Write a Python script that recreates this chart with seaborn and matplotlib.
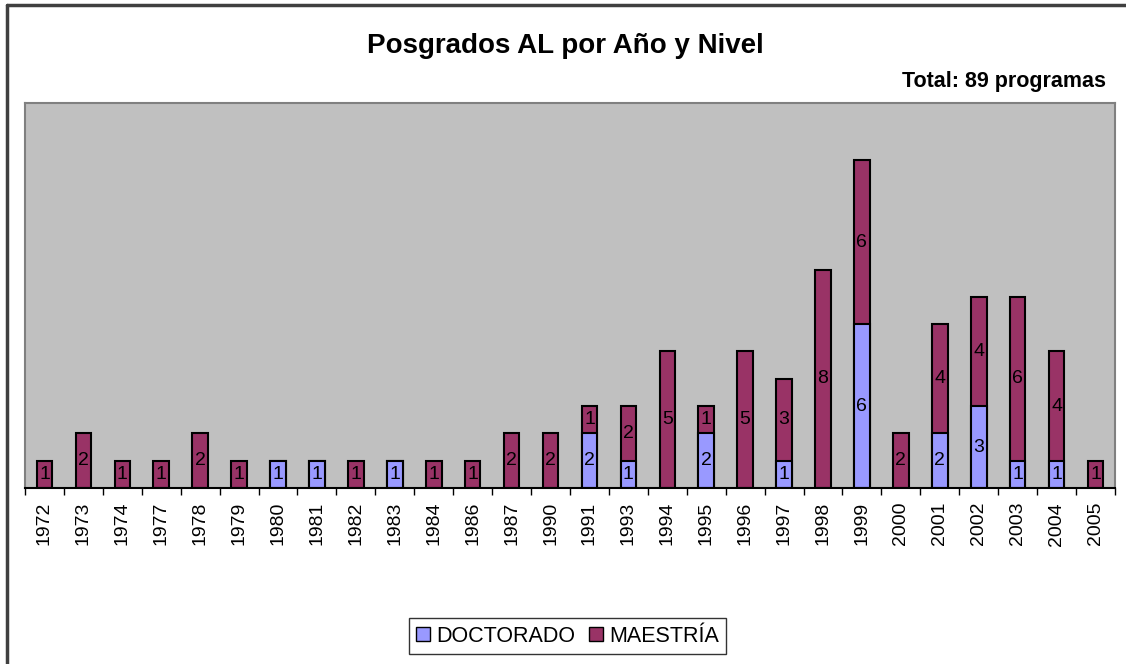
import matplotlib
matplotlib.use('Agg')
from matplotlib import pyplot as plt
from matplotlib.patches import Patch
from matplotlib.lines import Line2D
import seaborn as sns
import pandas as pd

# datos
years = ['1972', '1973', '1974', '1977', '1978', '1979', '1980', '1981', '1982',
         '1983', '1984', '1986', '1987', '1990', '1991', '1993', '1994', '1995',
         '1996', '1997', '1998', '1999', '2000', '2001', '2002', '2003', '2004', '2005']
doctorado = [0, 0, 0, 0, 0, 0, 1, 1, 0, 1, 0, 0, 0, 0, 2, 1, 0, 2,
             0, 1, 0, 6, 0, 2, 3, 1, 1, 0]
maestria = [1, 2, 1, 1, 2, 1, 0, 0, 1, 0, 1, 1, 2, 2, 1, 2, 5, 1,
            5, 3, 8, 6, 2, 4, 4, 6, 4, 1]

c_doc = '#9999FF'
c_mae = '#993366'

df = pd.DataFrame({'year': years, 'doc': doctorado, 'mae': maestria})
df['total'] = df['doc'] + df['mae']
df['doc_bar'] = df['doc'].where(df['doc'] > 0)

sns.set_style('white')
plt.rcParams['font.family'] = ['Liberation Sans', 'DejaVu Sans']
plt.rcParams['text.color'] = 'black'
plt.rcParams['xtick.color'] = 'black'

fig = plt.figure(figsize=(11.26, 6.64), dpi=100)
ax = fig.add_axes([0.0222, 0.265, 0.968, 0.58])
ax.set_facecolor('#C0C0C0')

# total (maestria encima) y luego doctorado en la base
sns.barplot(data=df, x='year', y='total', color=c_mae, width=0.4,
            edgecolor='black', linewidth=1.5, saturation=1, ax=ax)
sns.barplot(data=df, x='year', y='doc_bar', color=c_doc, width=0.4,
            edgecolor='black', linewidth=1.5, saturation=1, ax=ax)

for i, row in df.iterrows():
    if row['doc'] > 0:
        ax.text(i, row['doc'] / 2, str(row['doc']), ha='center', va='center',
                fontsize=14, color='black')
    if row['mae'] > 0:
        ax.text(i, row['doc'] + row['mae'] / 2, str(row['mae']), ha='center',
                va='center', fontsize=14, color='black')

ax.set_ylim(0, 14.1)
ax.set_xlim(-0.5, len(years) - 0.5)
ax.set_yticks([])
ax.set_xlabel('')
ax.set_ylabel('')
ax.set_xticks(range(len(years)))
ax.set_xticklabels(years, rotation=90, fontsize=14, color='black')
ax.tick_params(axis='x', length=0, pad=10)
# marcas entre categorias
ax.set_xticks([i + 0.5 for i in range(-1, len(years))], minor=True)
ax.tick_params(axis='x', which='minor', length=5, width=1, color='black', direction='out')
ax.xaxis.set_tick_params(which='minor', bottom=True)

for s in ['left', 'top', 'right']:
    ax.spines[s].set_color('#808080')
    ax.spines[s].set_linewidth(1.5)
ax.spines['bottom'].set_color('black')
ax.spines['bottom'].set_linewidth(1.5)

fig.text(0.502, 0.93, 'Posgrados AL por Año y Nivel', ha='center', va='center',
         fontsize=20, fontweight='bold', color='black')
fig.text(0.982, 0.877, 'Total: 89 programas', ha='right', va='center',
         fontsize=15.5, fontweight='bold', color='black')

handles = [Patch(facecolor=c_doc, edgecolor='black', label='DOCTORADO'),
           Patch(facecolor=c_mae, edgecolor='black', label='MAESTRÍA')]
leg = fig.legend(handles=handles, loc='center', bbox_to_anchor=(0.504, 0.042),
                 ncol=2, fontsize=15.5, frameon=True, fancybox=False,
                 handlelength=0.65, handleheight=0.65, handletextpad=0.3,
                 columnspacing=0.6, borderpad=0.35)
leg.get_frame().set_edgecolor('black')
leg.get_frame().set_linewidth(1)
for t in leg.get_texts():
    t.set_color('black')

# marco de la figura (solo izquierda y arriba visibles)
fig.add_artist(Line2D([0.0065, 0.0065], [0.0, 0.9925], color='#404040', lw=2.5,
                      transform=fig.transFigure))
fig.add_artist(Line2D([0.0065, 1.0], [0.9925, 0.9925], color='#404040', lw=2.5,
                      transform=fig.transFigure))

fig.savefig('out.png', dpi=100)
